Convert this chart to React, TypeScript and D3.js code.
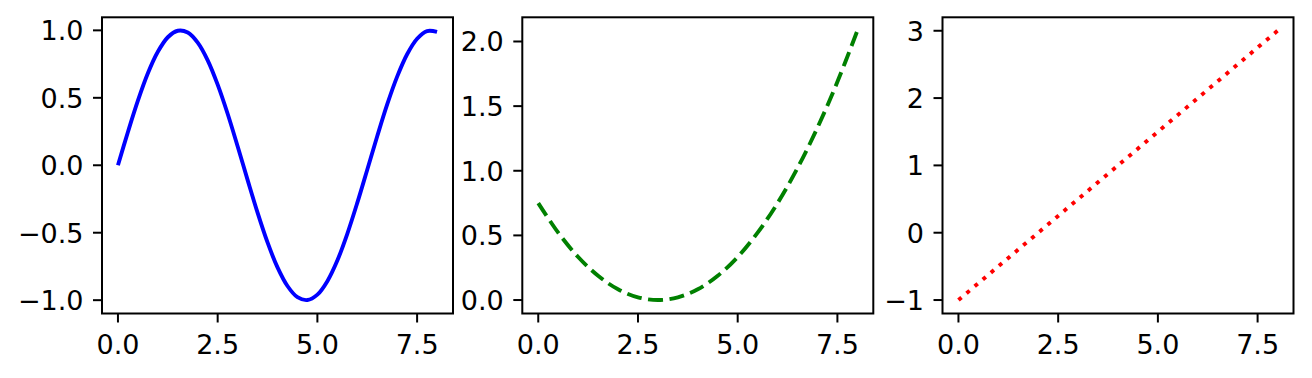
import React from "react";
import * as d3 from "d3";

// ---- data ----
const sineX = [0, 0.25, 0.5, 0.75, 1, 1.25, 1.5, 1.75, 2, 2.25, 2.5, 2.75, 3, 3.25, 3.5, 3.75, 4, 4.25, 4.5, 4.75, 5, 5.25, 5.5, 5.75, 6, 6.25, 6.5, 6.75, 7, 7.25, 7.5, 7.75, 8];
const sineY = [0, 0.247, 0.479, 0.682, 0.841, 0.949, 0.997, 0.984, 0.909, 0.778, 0.598, 0.382, 0.141, -0.108, -0.351, -0.572, -0.757, -0.895, -0.978, -0.999, -0.959, -0.859, -0.706, -0.508, -0.279, -0.033, 0.215, 0.451, 0.657, 0.823, 0.938, 0.995, 0.989];

const parabX = [0, 0.5, 1, 1.5, 2, 2.5, 3, 3.5, 4, 4.5, 5, 5.5, 6, 6.5, 7, 7.5, 8];
const parabY = [0.75, 0.521, 0.333, 0.188, 0.083, 0.021, 0, 0.021, 0.083, 0.188, 0.333, 0.521, 0.75, 1.021, 1.333, 1.688, 2.083];

const lineX = [0, 8];
const lineY = [-1, 3];

const xTicks = [0, 2.5, 5, 7.5];
const xTickLabels = ["0.0", "2.5", "5.0", "7.5"];
const yTicks1 = [-1, -0.5, 0, 0.5, 1];
const yTickLabels1 = ["\u22121.0", "\u22120.5", "0.0", "0.5", "1.0"];
const yTicks2 = [0, 0.5, 1, 1.5, 2];
const yTickLabels2 = ["0.0", "0.5", "1.0", "1.5", "2.0"];
const yTicks3 = [-1, 0, 1, 2, 3];
const yTickLabels3 = ["\u22121", "0", "1", "2", "3"];

const W = 1312;
const H = 378;
const TOP = 17.3;
const PH = 296.2;
const PW = 351;
const LEFTS = [102, 522.3, 942.5];
const FONT = "'DejaVu Sans', sans-serif";
const FS = 27;

type PanelProps = {
  left: number;
  xs: number[];
  ys: number[];
  yTicks: number[];
  yLabels: string[];
  color: string;
  dash?: string;
  curve: d3.CurveFactory;
};

function padDomain(v: number[]): [number, number] {
  const [a, b] = d3.extent(v) as [number, number];
  const m = (b - a) * 0.05;
  return [a - m, b + m];
}

function Panel({ left, xs, ys, yTicks, yLabels, color, dash, curve }: PanelProps) {
  const x = d3.scaleLinear().domain(padDomain(xs)).range([left, left + PW]);
  const y = d3.scaleLinear().domain(padDomain(ys)).range([TOP + PH, TOP]);
  const pts = xs.map((v, i) => [v, ys[i]] as [number, number]);
  const path = d3
    .line<[number, number]>()
    .x((d) => x(d[0]))
    .y((d) => y(d[1]))
    .curve(curve)(pts) as string;
  const tickLen = 9;
  return (
    <g>
      <path
        d={path}
        fill="none"
        stroke={color}
        strokeWidth={3.9}
        strokeDasharray={dash}
        strokeLinecap="butt"
      />
      <rect x={left} y={TOP} width={PW} height={PH} fill="none" stroke="#000" strokeWidth={2} />
      {xTicks.map((t, i) => (
        <g key={"x" + i}>
          <line x1={x(t)} x2={x(t)} y1={TOP + PH} y2={TOP + PH + tickLen} stroke="#000" strokeWidth={2} />
          <text x={x(t)} y={TOP + PH + 40} textAnchor="middle" fontFamily={FONT} fontSize={FS} fill="#000">
            {xTickLabels[i]}
          </text>
        </g>
      ))}
      {yTicks.map((t, i) => (
        <g key={"y" + i}>
          <line x1={left - tickLen} x2={left} y1={y(t)} y2={y(t)} stroke="#000" strokeWidth={2} />
          <text x={left - 18.5} y={y(t) + 9.8} textAnchor="end" fontFamily={FONT} fontSize={FS} fill="#000">
            {yLabels[i]}
          </text>
        </g>
      ))}
    </g>
  );
}

export default function App() {
  return (
    <svg
      width={W}
      height={H}
      viewBox={`0 0 ${W} ${H}`}
      style={{ position: "absolute", left: 0, top: 0, background: "#fff" }}
    >
      <rect width={W} height={H} fill="#fff" />
      <Panel left={LEFTS[0]} xs={sineX} ys={sineY} yTicks={yTicks1} yLabels={yTickLabels1} color="#0000ff" curve={d3.curveCatmullRom} />
      <Panel left={LEFTS[1]} xs={parabX} ys={parabY} yTicks={yTicks2} yLabels={yTickLabels2} color="#008000" dash="15 6.5" curve={d3.curveCatmullRom} />
      <Panel left={LEFTS[2]} xs={lineX} ys={lineY} yTicks={yTicks3} yLabels={yTickLabels3} color="#ff0000" dash="4 6.6" curve={d3.curveLinear} />
    </svg>
  );
}
